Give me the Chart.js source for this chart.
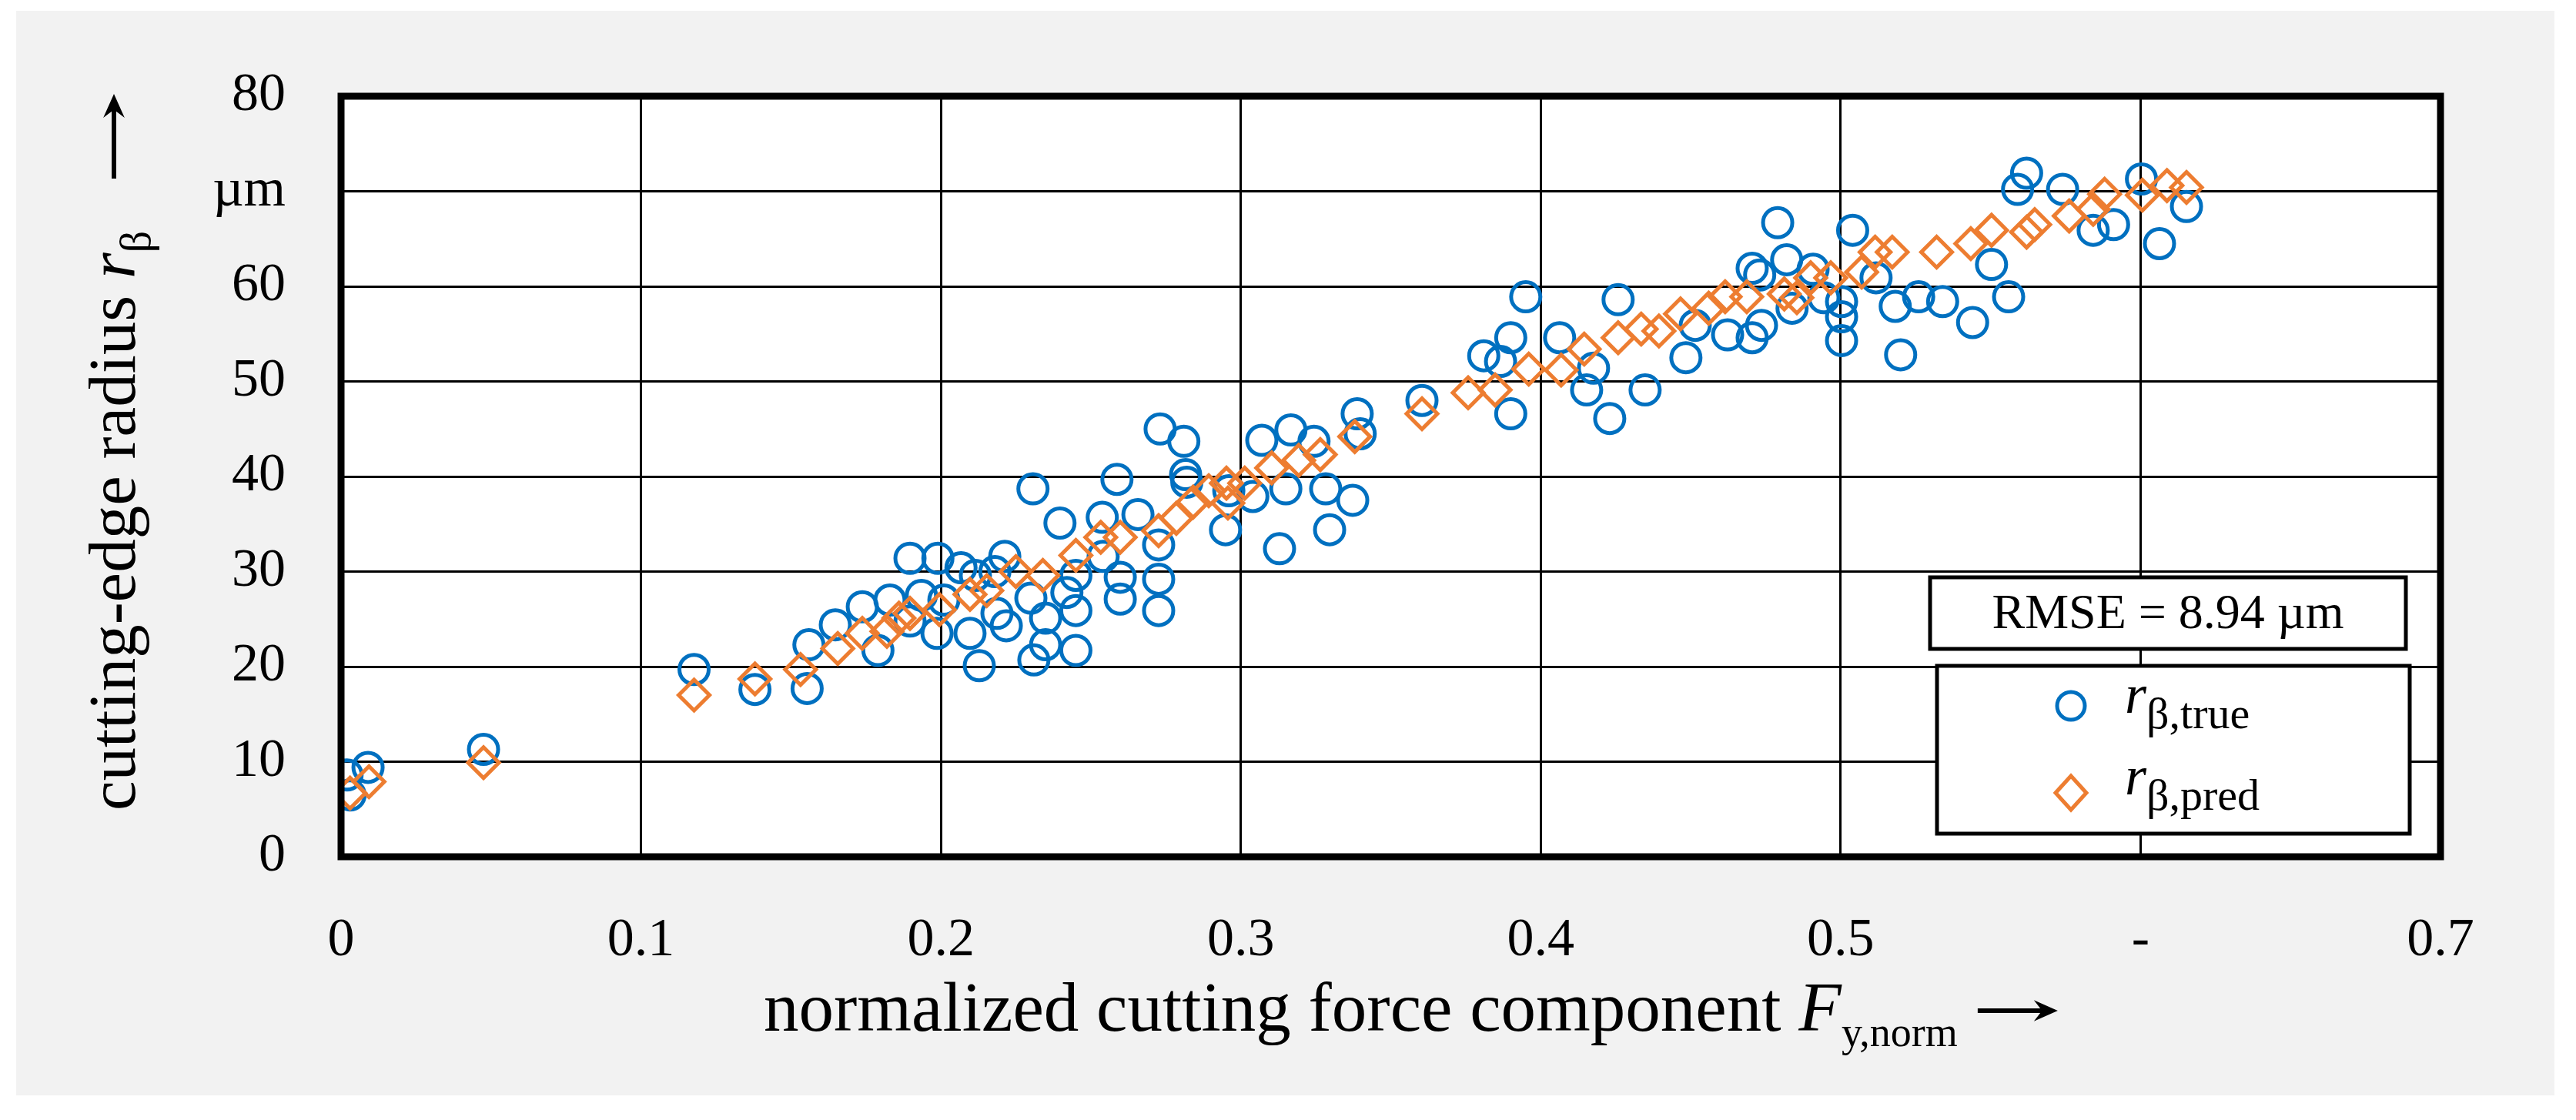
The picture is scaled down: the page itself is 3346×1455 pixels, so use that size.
<!DOCTYPE html>
<html>
<head>
<meta charset="utf-8">
<script src="https://cdn.jsdelivr.net/npm/chart.js@4.4.1/dist/chart.umd.min.js"></script>
<style>
  body { margin: 0; background: #fff; }
  #wrap { width: 3346px; height: 1455px; }
</style>
</head>
<body>
<div id="wrap"><canvas id="rbChart" width="3346" height="1455"></canvas></div>
<script>
// measured cutting-edge radius (blue circles)
const trueX = [0.003, 0.002, 0.009, 0.0475, 0.1177, 0.138, 0.1554, 0.156,
  0.1648, 0.1738, 0.179, 0.183, 0.1897, 0.1897, 0.1935, 0.199, 0.1987, 0.201, 0.2067, 0.2097,
  0.2128, 0.2115, 0.2187, 0.2213, 0.2218, 0.218, 0.2307, 0.231, 0.230, 0.2349, 0.2349, 0.2397,
  0.242, 0.245, 0.245, 0.245, 0.2538, 0.2541,
  0.2587, 0.2598, 0.2598, 0.2657, 0.2726, 0.2726, 0.2726, 0.2731, 0.281, 0.2816, 0.282, 0.2949,
  0.296, 0.304, 0.307, 0.3129, 0.315, 0.3167, 0.3244, 0.3283, 0.3296, 0.3373, 0.3388, 0.3398, 0.3604,
  0.381, 0.3866, 0.390, 0.390, 0.395, 0.4063, 0.4153, 0.4176, 0.423, 0.4258, 0.4348, 0.4484,
  0.4515, 0.4623, 0.4705, 0.4705, 0.4736, 0.473, 0.479, 0.482, 0.4838,
  0.4908, 0.4944, 0.5003, 0.5003, 0.5003, 0.504, 0.5118, 0.5182, 0.520, 0.526, 0.534, 0.544,
  0.5503, 0.556, 0.559, 0.562, 0.574, 0.5842, 0.591, 0.6003, 0.6063, 0.6153];
const trueY = [6.5, 8.6, 9.4, 11.3, 19.7, 17.6, 17.7, 22.3,
  24.4, 26.3, 21.7, 27.0, 31.4, 24.8, 27.5, 31.4, 23.5, 27.0, 30.4, 23.5,
  20.1, 29.6, 25.6, 31.6, 24.3, 30.0, 38.7, 20.7, 27.2, 25.1, 22.3, 35.1,
  27.8, 25.9, 29.6, 21.7, 35.7, 31.6,
  39.7, 29.4, 27.1, 36.0, 32.8, 29.2, 25.9, 45.0, 43.7, 40.2, 39.4, 34.4,
  38.5, 37.9, 43.8, 32.4, 38.7, 44.9, 43.7, 38.7, 34.4, 37.5, 46.6, 44.5, 48.0,
  52.7, 52.1, 54.6, 46.6, 58.9, 54.6, 49.1, 51.4, 46.1, 58.6, 49.1, 52.5,
  55.9, 54.9, 61.9, 54.6, 55.9, 61.2, 66.7, 62.8, 57.7,
  61.8, 58.8, 58.4, 56.8, 54.3, 65.9, 60.9, 57.9, 52.8, 58.9, 58.4, 56.2,
  62.3, 58.9, 70.2, 71.9, 70.2, 65.9, 66.5, 71.3, 64.5, 68.4];

// predicted cutting-edge radius (orange diamonds)
const predX = [0.003, 0.0093, 0.0475, 0.1177, 0.138, 0.1532, 0.1656, 0.1738, 0.182, 0.186,
  0.1897, 0.1995, 0.2097, 0.2153, 0.225, 0.234, 0.245, 0.2533, 0.2598, 0.2726,
  0.2785, 0.2841, 0.2893, 0.2952, 0.2957, 0.3013, 0.3103, 0.3193, 0.3265, 0.338,
  0.3604, 0.3758, 0.3848, 0.396, 0.4068, 0.4145, 0.4258, 0.4335, 0.4394, 0.4466,
  0.456, 0.4615, 0.4687, 0.4812, 0.4854, 0.49, 0.4967, 0.507, 0.5115, 0.5172,
  0.532, 0.5434, 0.5503, 0.562, 0.5647, 0.5762, 0.5842, 0.588, 0.6006, 0.6088, 0.6153];
const predY = [6.7, 7.9, 9.9, 17.0, 18.7, 19.7, 21.9, 23.5, 23.7, 25.1,
  25.6, 26.0, 27.6, 28.0, 30.0, 29.6, 31.7, 33.6, 33.6, 34.3,
  35.6, 37.3, 38.5, 39.3, 37.2, 39.3, 40.9, 41.7, 42.3, 44.2,
  46.6, 48.8, 49.1, 51.3, 51.2, 53.4, 54.6, 55.5, 55.3, 57.1,
  57.7, 58.9, 58.9, 59.2, 58.8, 60.9, 60.9, 61.5, 63.6, 63.6,
  63.6, 64.5, 65.9, 65.7, 66.5, 67.4, 68.1, 69.7, 69.6, 70.6, 70.4];

// tick labels as printed in the figure
const xTickLabels = ['0', '0.1', '0.2', '0.3', '0.4', '0.5', '-', '0.7'];
const yTickLabels = ['0', '10', '20', '30', '40', '50', '60', 'µm', '80'];

const blue = '#0070C0';
const orange = '#ED7D31';
const serif = '"Liberation Serif", "Times New Roman", serif';

const toPoints = (xs, ys) => xs.map((x, i) => ({ x: x, y: ys[i] }));

function drawArrow(ctx, x1, y1, x2, y2) {
    const ang = Math.atan2(y2 - y1, x2 - x1);
    const head = 34;
    ctx.save();
    ctx.strokeStyle = '#000';
    ctx.fillStyle = '#000';
    ctx.lineWidth = 6;
    ctx.beginPath();
    ctx.moveTo(x1, y1);
    ctx.lineTo(x2 - Math.cos(ang) * 14, y2 - Math.sin(ang) * 14);
    ctx.stroke();
    ctx.beginPath();
    ctx.moveTo(x2, y2);
    ctx.lineTo(x2 - head * Math.cos(ang - 0.42), y2 - head * Math.sin(ang - 0.42));
    ctx.lineTo(x2 - head * 0.6 * Math.cos(ang), y2 - head * 0.6 * Math.sin(ang));
    ctx.lineTo(x2 - head * Math.cos(ang + 0.42), y2 - head * Math.sin(ang + 0.42));
    ctx.closePath();
    ctx.fill();
    ctx.restore();
}

// a run of text pieces: [text, font, baseline shift]
function drawRun(ctx, parts, x, y) {
    parts.forEach(p => {
        ctx.font = p[1];
        ctx.fillText(p[0], x, y + p[2]);
        x += ctx.measureText(p[0]).width;
    });
    return x;
}

const backgroundPlugin = {
    id: 'panel',
    beforeDraw(chart) {
        const ctx = chart.ctx;
        const a = chart.chartArea;
        ctx.save();
        ctx.fillStyle = '#ffffff';
        ctx.fillRect(0, 0, chart.width, chart.height);
        ctx.fillStyle = '#f2f2f2';
        ctx.fillRect(21, 14, 3297, 1409);
        ctx.fillStyle = '#ffffff';
        ctx.fillRect(a.left, a.top, a.right - a.left, a.bottom - a.top);
        ctx.restore();
    }
};

const decorPlugin = {
    id: 'decor',
    afterDraw(chart) {
        const ctx = chart.ctx;
        const a = chart.chartArea;
        ctx.save();
        // heavy frame round the plot
        ctx.strokeStyle = '#000';
        ctx.lineWidth = 9;
        ctx.strokeRect(a.left, a.top, a.right - a.left, a.bottom - a.top);

        ctx.fillStyle = '#000';
        ctx.textBaseline = 'alphabetic';
        ctx.textAlign = 'left';

        // x axis title
        const xe = drawRun(ctx, [
            ['normalized cutting force component ', '91px ' + serif, 0],
            ['F', 'italic 91px ' + serif, 0],
            ['y,norm', '54px ' + serif, 20]
        ], 992, 1339);
        drawArrow(ctx, xe + 26, 1313, xe + 130, 1313);

        // y axis title (rotated, reads upwards)
        ctx.save();
        ctx.translate(175, 1053);
        ctx.rotate(-Math.PI / 2);
        drawRun(ctx, [
            ['cutting-edge radius ', '87px ' + serif, 0],
            ['r', 'italic 87px ' + serif, 0],
            ['β', '56px ' + serif, 20]
        ], 0, 0);
        ctx.restore();
        drawArrow(ctx, 148, 232, 148, 122);

        // RMSE box
        ctx.fillStyle = '#fff';
        ctx.fillRect(2507, 750, 618, 93);
        ctx.lineWidth = 5;
        ctx.strokeRect(2507, 750, 618, 93);
        ctx.fillStyle = '#000';
        ctx.font = '64px ' + serif;
        ctx.textAlign = 'center';
        ctx.textBaseline = 'middle';
        ctx.fillText('RMSE = 8.94 µm', 2816, 799);

        // legend box
        ctx.fillStyle = '#fff';
        ctx.fillRect(2516, 865, 614, 218);
        ctx.strokeRect(2516, 865, 614, 218);
        ctx.lineWidth = 5;
        ctx.strokeStyle = blue;
        ctx.beginPath();
        ctx.arc(2690, 917, 18, 0, Math.PI * 2);
        ctx.stroke();
        ctx.strokeStyle = orange;
        ctx.beginPath();
        ctx.moveTo(2670, 1030); ctx.lineTo(2690, 1008); ctx.lineTo(2710, 1030); ctx.lineTo(2690, 1052);
        ctx.closePath();
        ctx.stroke();

        ctx.fillStyle = '#000';
        ctx.textAlign = 'left';
        ctx.textBaseline = 'alphabetic';
        drawRun(ctx, [['r', 'italic 72px ' + serif, 0], ['β,true', '58px ' + serif, 20]], 2760, 926);
        drawRun(ctx, [['r', 'italic 72px ' + serif, 0], ['β,pred', '58px ' + serif, 20]], 2760, 1032);
        ctx.restore();
    }
};

const ctxRb = document.getElementById('rbChart').getContext('2d');
const rbChart = new Chart(ctxRb, {
    type: 'scatter',
    data: {
        datasets: [{
            label: 'r β,pred',
            data: toPoints(predX, predY),
            pointStyle: 'rectRot',
            pointRadius: 20,
            pointBorderWidth: 5,
            borderColor: orange,
            backgroundColor: 'rgba(0,0,0,0)'
        }, {
            label: 'r β,true',
            data: toPoints(trueX, trueY),
            pointStyle: 'circle',
            pointRadius: 19,
            pointBorderWidth: 5,
            borderColor: blue,
            backgroundColor: 'rgba(0,0,0,0)'
        }]
    },
    options: {
        responsive: false,
        devicePixelRatio: 1,
        animation: false,
        layout: { padding: { top: 125, right: 176, left: 0, bottom: 0 } },
        plugins: {
            legend: { display: false },
            tooltip: { enabled: false }
        },
        scales: {
            x: {
                type: 'linear',
                min: 0,
                max: 0.7,
                afterFit: s => { s.height = 342; },
                afterBuildTicks: s => { s.ticks = xTickLabels.map((t, i) => ({ value: i / 10 })); },
                ticks: {
                    font: { family: serif, size: 70 },
                    color: '#000',
                    padding: 68,
                    maxRotation: 0,
                    callback: (v, i) => xTickLabels[i]
                },
                grid: { color: '#000', lineWidth: 3, drawTicks: false },
                border: { display: false }
            },
            y: {
                type: 'linear',
                min: 0,
                max: 80,
                afterFit: s => { s.width = 443; },
                afterBuildTicks: s => { s.ticks = yTickLabels.map((t, i) => ({ value: i * 10 })); },
                ticks: {
                    font: { family: serif, size: 70 },
                    color: '#000',
                    padding: 72,
                    callback: (v, i) => yTickLabels[i]
                },
                grid: { color: '#000', lineWidth: 3, drawTicks: false },
                border: { display: false }
            }
        }
    },
    plugins: [backgroundPlugin, decorPlugin]
});
</script>
</body>
</html>
